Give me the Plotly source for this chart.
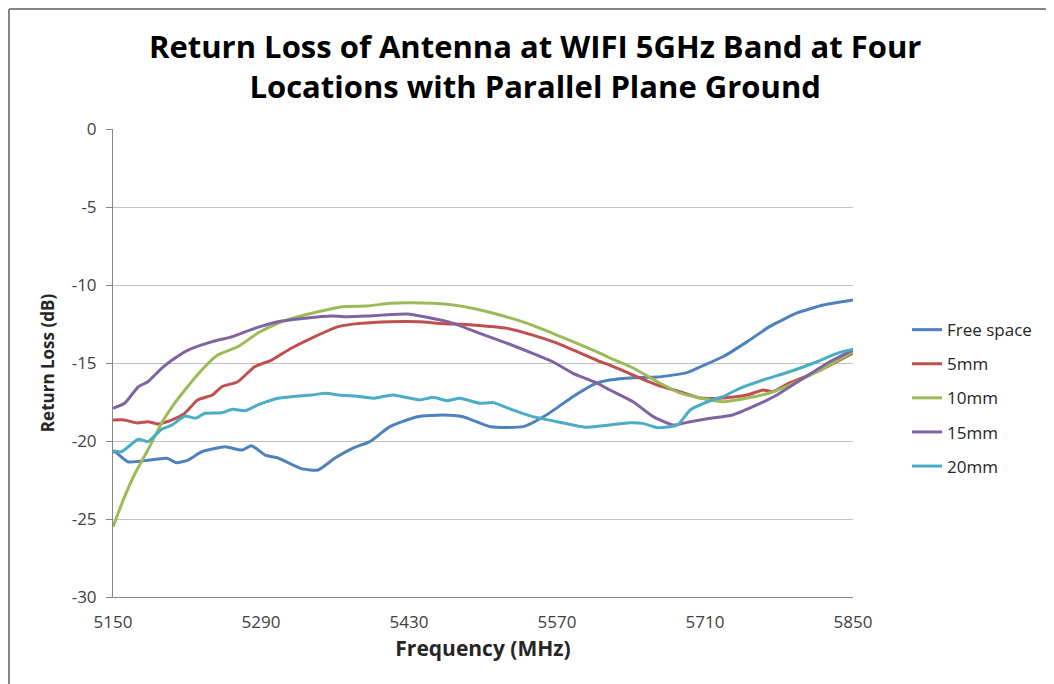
import plotly.graph_objects as go

# ---- data ----
fs_f = [5150, 5152, 5164, 5201, 5210, 5221, 5234, 5256, 5272, 5281, 5294, 5306, 5329, 5344, 5360, 5377,
        5393, 5412, 5438, 5462, 5481, 5507, 5538, 5560, 5585, 5608, 5620, 5642, 5665, 5693, 5705, 5727,
        5750, 5771, 5797, 5822, 5850]
fs_db = [-20.7, -20.69, -21.33, -21.11, -21.39, -21.22, -20.69, -20.37, -20.58, -20.30, -20.90, -21.09,
         -21.79, -21.86, -21.09, -20.45, -20.04, -19.08, -18.44, -18.33, -18.44, -19.08, -19.08, -18.33,
         -17.16, -16.28, -16.09, -15.94, -15.90, -15.62, -15.26, -14.60, -13.63, -12.67, -11.79, -11.28, -10.96]

mm5_f = [5150, 5161, 5173, 5183, 5193, 5206, 5218, 5230, 5244, 5253, 5268, 5284, 5300, 5319, 5338, 5363,
         5384, 5412, 5440, 5459, 5490, 5523, 5547, 5570, 5592, 5611, 5620, 5642, 5665, 5686, 5705, 5727,
         5750, 5765, 5774, 5790, 5816, 5850]
mm5_db = [-18.65, -18.65, -18.85, -18.76, -18.91, -18.65, -18.21, -17.37, -17.05, -16.52, -16.20, -15.24,
          -14.81, -14.04, -13.40, -12.67, -12.46, -12.35, -12.35, -12.46, -12.56, -12.78, -13.21, -13.72,
          -14.36, -14.92, -15.13, -15.77, -16.41, -16.84, -17.24, -17.24, -17.05, -16.73, -16.84, -16.28,
          -15.56, -14.36]

mm10_f = [5150, 5161, 5171, 5183, 5196, 5206, 5218, 5234, 5249, 5268, 5287, 5306, 5325, 5344, 5367, 5390,
          5412, 5431, 5453, 5472, 5490, 5516, 5542, 5566, 5589, 5611, 5620, 5642, 5665, 5686, 5705, 5727,
          5750, 5771, 5790, 5816, 5850]
mm10_db = [-25.49, -23.57, -22.05, -20.58, -18.85, -17.80, -16.73, -15.45, -14.49, -13.96, -13.08, -12.46,
           -12.03, -11.71, -11.39, -11.35, -11.17, -11.13, -11.17, -11.28, -11.49, -11.92, -12.46, -13.10,
           -13.74, -14.38, -14.68, -15.32, -16.20, -16.92, -17.24, -17.48, -17.24, -16.92, -16.41, -15.56,
           -14.28]

mm15_f = [5150, 5161, 5174, 5183, 5196, 5206, 5221, 5244, 5263, 5284, 5306, 5332, 5357, 5372, 5390, 5428,
          5447, 5472, 5497, 5523, 5547, 5566, 5585, 5605, 5620, 5642, 5661, 5680, 5696, 5715, 5736, 5759,
          5778, 5803, 5828, 5850]
mm15_db = [-17.90, -17.58, -16.52, -16.20, -15.34, -14.81, -14.17, -13.63, -13.31, -12.78, -12.35, -12.13,
           -11.99, -12.03, -11.99, -11.86, -12.07, -12.46, -13.10, -13.74, -14.38, -14.92, -15.66, -16.20,
           -16.73, -17.48, -18.44, -18.97, -18.76, -18.54, -18.33, -17.69, -17.05, -15.98, -14.92, -14.17]

mm20_f = [5150, 5158, 5174, 5183, 5196, 5206, 5218, 5228, 5237, 5253, 5263, 5275, 5287, 5306, 5325, 5338,
          5351, 5363, 5379, 5396, 5415, 5440, 5453, 5466, 5478, 5497, 5510, 5528, 5547, 5570, 5585, 5598,
          5611, 5620, 5639, 5651, 5665, 5684, 5696, 5715, 5727, 5743, 5765, 5790, 5816, 5835, 5850]
mm20_db = [-20.62, -20.69, -19.89, -20.04, -19.25, -18.97, -18.40, -18.54, -18.22, -18.19, -17.97, -18.06,
           -17.69, -17.26, -17.12, -17.05, -16.94, -17.05, -17.12, -17.26, -17.05, -17.37, -17.20, -17.42,
           -17.26, -17.58, -17.54, -18.01, -18.44, -18.76, -18.97, -19.12, -19.04, -18.97, -18.83, -18.87,
           -19.15, -18.97, -18.01, -17.42, -17.16, -16.62, -16.09, -15.56, -14.92, -14.38, -14.12]

series_names = ["Free space", "5mm", "10mm", "15mm", "20mm"]
x_ticks = [5150, 5290, 5430, 5570, 5710, 5850]
y_ticks = [0, -5, -10, -15, -20, -25, -30]

colors = ["#4F81BD", "#C0504D", "#9BBB59", "#8064A2", "#4BACC6"]
xs = [fs_f, mm5_f, mm10_f, mm15_f, mm20_f]
ys = [fs_db, mm5_db, mm10_db, mm15_db, mm20_db]

FONT = "Open Sans"

fig = go.Figure()
for i, (name, x, y) in enumerate(zip(series_names, xs, ys)):
    fig.add_trace(go.Scatter(
        x=x, y=y, name=name, mode="lines",
        line=dict(color=colors[i], width=3, shape="spline", smoothing=0.5),
        legendgroup=name,
    ))

W, H = 1046, 676
ML, MR, MT, MB = 105, 201, 121, 87
PW, PH = W - ML - MR, H - MT - MB

# outer chart border (left and top visible)
bx = (1 - ML) / PW
by = 1 + (MT - 1) / PH
fig.add_shape(type="line", xref="paper", yref="paper", x0=bx, x1=bx, y0=-0.3, y1=by,
              line=dict(color="#868686", width=2))
fig.add_shape(type="line", xref="paper", yref="paper", x0=bx, x1=1.4, y0=by, y1=by,
              line=dict(color="#868686", width=2))

fig.update_layout(
    width=W, height=H,
    margin=dict(l=ML, r=MR, t=MT, b=MB),
    paper_bgcolor="white", plot_bgcolor="white",
    font=dict(family=FONT, color="#262626"),
    title=dict(
        text="<b>Return Loss of Antenna at WIFI 5GHz Band at Four<br>Locations with Parallel Plane Ground</b>",
        x=0.504, xref="container", xanchor="center", y=0.926, yanchor="middle",
        font=dict(family=FONT, size=31, color="#000000"),
    ),
    xaxis=dict(
        range=[5150, 5850], tickvals=x_ticks, ticktext=[str(t) for t in x_ticks],
        showgrid=False, zeroline=False, showline=True, linecolor="#868686", linewidth=1,
        ticks="", ticklabelstandoff=10, tickfont=dict(size=17, color="#404040", family=FONT),
        title=dict(text="<b>Frequency (MHz)</b>", font=dict(size=21, color="#262626", family=FONT),
                   standoff=8),
    ),
    yaxis=dict(
        range=[-30, 0], tickvals=y_ticks, ticktext=[str(t) for t in y_ticks],
        showgrid=True, gridcolor="#C0C0C0", gridwidth=1, zeroline=False,
        showline=True, linecolor="#868686", linewidth=1,
        ticks="outside", ticklen=6, tickcolor="#868686", ticklabelstandoff=6,
        tickfont=dict(size=17, color="#404040", family=FONT),
        title=dict(text="<b>Return Loss (dB)</b>", font=dict(size=17, color="#262626", family=FONT),
                   standoff=12),
    ),
    legend=dict(
        x=1.073, xanchor="left", y=0.425, yanchor="middle",
        font=dict(size=17, color="#262626", family=FONT),
        tracegroupgap=9, bgcolor="rgba(0,0,0,0)",
    ),
    showlegend=True,
)

fig.write_html("out.html")
